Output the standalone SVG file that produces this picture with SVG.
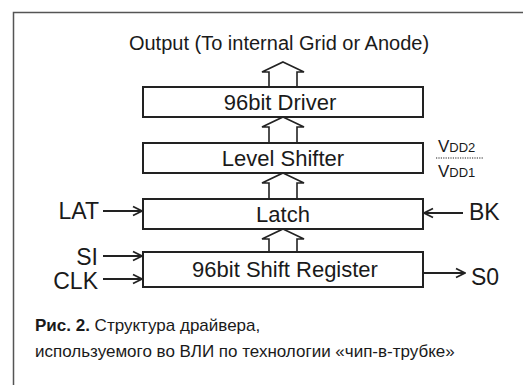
<svg xmlns="http://www.w3.org/2000/svg" width="523" height="385" viewBox="0 0 523 385">
<defs>
<marker id="ah" viewBox="0 0 12 12" refX="11" refY="6" markerWidth="12" markerHeight="12" markerUnits="userSpaceOnUse" orient="auto">
<path d="M2,1.5 L11,6 L2,10.5" fill="none" stroke="#222" stroke-width="1.8"/>
</marker>
<style>
.box{fill:#fff;stroke:#222;stroke-width:2}
.harrow{fill:#fff;stroke:#222;stroke-width:1.6;stroke-linejoin:miter}
.t{font-family:"Liberation Sans",Arial,sans-serif;fill:#1a1a1a}
.lbl{font-size:22px;text-anchor:middle}
.sig{font-size:23px}
.line{stroke:#222;stroke-width:1.8;fill:none;marker-end:url(#ah)}
.frame{stroke:#555;stroke-width:1.5;fill:none}
</style>
</defs>
<rect width="523" height="385" fill="#fff"/>
<path class="frame" d="M13.5,385 V12.5 H523"/>
<text class="t" x="279" y="50" font-size="20" text-anchor="middle">Output (To internal Grid or Anode)</text>
<g id="connectors">
<polygon class="harrow" points="283,62 304,72 297,72 297,87 269,87 269,72 262,72"/>
<polygon class="harrow" points="283,117 304,127 297,127 297,143 269,143 269,127 262,127"/>
<polygon class="harrow" points="283,173 304,183 297,183 297,199 269,199 269,183 262,183"/>
<polygon class="harrow" points="283,229 304,239 297,239 297,252 269,252 269,239 262,239"/>
<line class="line" x1="103" y1="211" x2="142" y2="211"/>
<line class="line" x1="463" y1="213" x2="424" y2="213"/>
<line class="line" x1="103" y1="256" x2="142" y2="256"/>
<line class="line" x1="103" y1="279" x2="142" y2="279"/>
<line class="line" x1="424" y1="273" x2="465" y2="273"/>
</g>
<g id="driver">
<rect class="box" x="143" y="87" width="280" height="30"/>
<text class="t lbl" x="280" y="110" font-size="23">96bit Driver</text>
</g>
<g id="levelshifter">
<rect class="box" x="143" y="143" width="280" height="30"/>
<text class="t lbl" x="283" y="166">Level Shifter</text>
</g>
<g id="latch">
<rect class="box" x="143" y="199" width="280" height="30"/>
<text class="t lbl" x="283" y="222">Latch</text>
</g>
<g id="shiftreg">
<rect class="box" x="143" y="252" width="280" height="35"/>
<text class="t lbl" x="285" y="277">96bit Shift Register</text>
</g>
<g id="vdd">
<text class="t" x="438" y="152" font-size="17">V<tspan font-size="13">DD2</tspan></text>
<line x1="436" y1="158" x2="484" y2="158" stroke="#222" stroke-width="1.2" stroke-dasharray="1.2,1.2"/>
<text class="t" x="438" y="177" font-size="17">V<tspan font-size="13">DD1</tspan></text>
</g>
<g id="signals">
<text class="t sig" x="99" y="219" text-anchor="end">LAT</text>
<text class="t sig" x="469" y="220">BK</text>
<text class="t sig" x="98" y="265" text-anchor="end">SI</text>
<text class="t sig" x="98" y="289" text-anchor="end">CLK</text>
<text class="t sig" x="471" y="285">S0</text>
</g>
<g id="caption">
<text class="t" x="35" y="331" font-size="17"><tspan font-weight="bold">Рис. 2.</tspan> Структура драйвера,</text>
<text class="t" x="35" y="357" font-size="17">используемого во ВЛИ по технологии «чип-в-трубке»</text>
</g>
</svg>
